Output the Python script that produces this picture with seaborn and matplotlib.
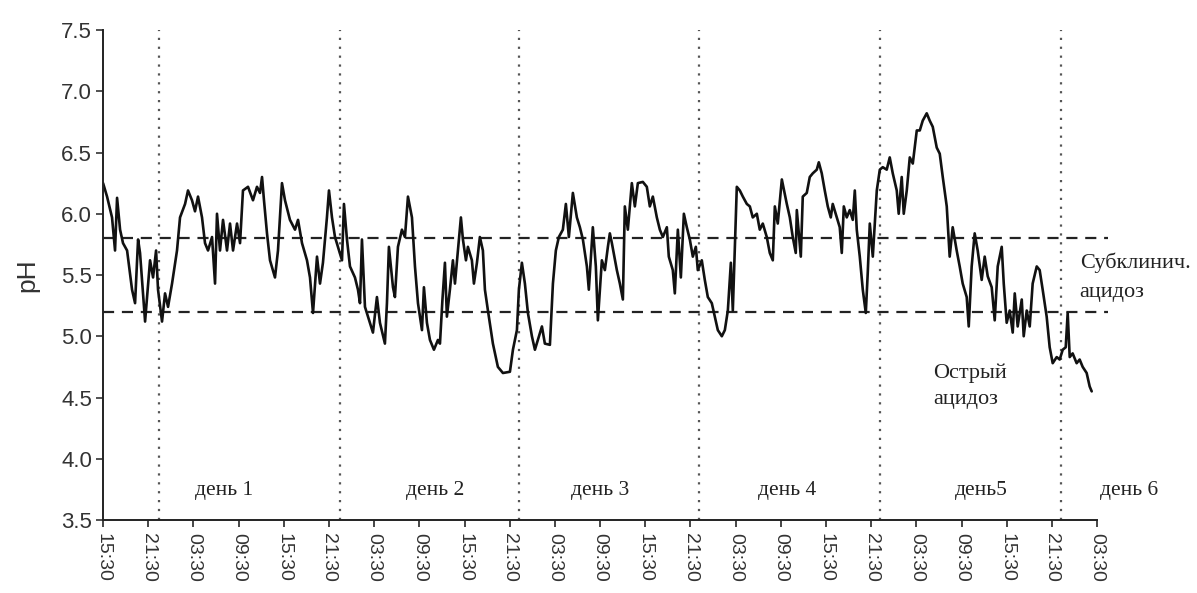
import matplotlib
matplotlib.use("Agg")
import matplotlib.pyplot as plt
import seaborn as sns
import pandas as pd

# Ruminal pH record, hours counted from 15:30 on the first day
hours = [
    0, 0.53, 1.19, 1.59, 1.86, 2.26, 2.65, 3.19, 3.85, 4.25, 4.65, 4.91, 5.58, 6.24, 6.64,
    7.04, 7.30, 7.83, 8.23, 8.63, 9.16, 9.82, 10.22, 10.89, 11.28, 11.81, 12.21, 12.61, 13.14,
    13.54, 13.94, 14.47, 14.87, 15.13, 15.53, 15.93, 16.46, 16.86, 17.26, 17.79, 18.19, 18.58,
    19.25, 19.91, 20.44, 20.84, 21.11, 21.37, 21.77, 22.17, 22.83, 23.23, 23.76, 24.16, 24.82,
    25.49, 25.89, 26.42, 27.08, 27.48, 27.88, 28.41, 28.81, 29.20, 29.73, 30.00, 30.40, 30.80,
    31.19, 31.73, 31.99, 32.39, 32.79, 33.45, 33.85, 34.12, 34.38, 34.78, 35.44, 35.84, 36.37,
    36.77, 37.43, 37.70, 37.96, 38.50, 38.76, 39.16, 39.69, 40.09, 40.49, 41.02, 41.42, 41.82,
    42.35, 42.61, 43.01, 43.41, 43.94, 44.47, 44.74, 45.07, 45.40, 45.66, 46.06, 46.46, 46.73,
    47.12, 47.52, 47.79, 48.19, 48.45, 48.98, 49.25, 49.65, 50.04, 50.44, 50.71, 51.11, 51.77,
    52.43, 53.10, 54.03, 54.43, 54.96, 55.22, 55.62, 56.02, 56.42, 56.95, 57.35, 57.74, 58.28,
    58.67, 59.34, 59.74, 60.13, 60.53, 61.06, 61.46, 61.86, 62.39, 62.92, 63.32, 63.72, 64.25,
    64.51, 65.04, 65.44, 65.71, 66.24, 66.64, 67.04, 67.30, 67.57, 68.23, 68.63, 69.03, 69.29,
    69.69, 70.22, 70.62, 71.02, 71.68, 72.21, 72.61, 73.01, 73.54, 73.94, 74.34, 74.87, 75.13,
    75.66, 75.93, 76.33, 76.73, 77.13, 77.52, 77.92, 78.32, 78.72, 78.98, 79.51, 79.91, 80.31,
    80.84, 81.24, 81.64, 82.17, 82.57, 82.97, 83.37, 83.63, 84.16, 84.56, 84.96, 85.49, 85.89,
    86.28, 86.82, 87.21, 87.61, 88.14, 88.54, 88.94, 89.21, 89.60, 90.14, 90.40, 90.80, 91.20,
    91.59, 91.99, 92.13, 92.66, 92.92, 93.45, 93.85, 94.25, 94.78, 95.05, 95.44, 95.84, 96.24,
    96.64, 96.90, 97.43, 97.83, 98.10, 98.37, 98.76, 99.16, 99.56, 99.83, 100.09, 100.49,
    100.89, 101.29, 101.55, 101.82, 102.22, 102.75, 103.15, 103.54, 104.07, 104.47, 104.87,
    105.40, 105.66, 106.06, 106.33, 106.73, 107.13, 107.53, 108.06, 108.46, 108.85, 109.38,
    109.78, 110.18, 110.71, 111.11, 111.51, 112.04, 112.43, 112.83, 113.36, 113.76, 114.16,
    114.69, 114.96, 115.35, 115.75, 116.15, 116.68, 117.08, 117.48, 118.01, 118.41, 118.81,
    119.34, 119.61, 120.00, 120.40, 120.80, 121.07, 121.46, 122.00, 122.26, 122.66, 123.06,
    123.45, 123.99, 124.38, 124.78, 125.31, 125.71, 126.11, 126.64, 127.04, 127.44, 127.84,
    128.10, 128.37, 128.76, 129.29, 129.69, 130.09, 130.62, 131.02, 131.29,
]

ph = [
    6.25, 6.14, 5.97, 5.70, 6.13, 5.87, 5.76, 5.70, 5.38, 5.27, 5.79, 5.68, 5.12, 5.62, 5.48,
    5.70, 5.38, 5.12, 5.35, 5.24, 5.43, 5.70, 5.97, 6.08, 6.19, 6.11, 6.02, 6.14, 5.97,
    5.76, 5.70, 5.81, 5.43, 6.00, 5.70, 5.95, 5.70, 5.92, 5.70, 5.92, 5.76, 6.19,
    6.22, 6.11, 6.22, 6.17, 6.30, 6.11, 5.84, 5.62, 5.48, 5.70, 6.25, 6.11, 5.95,
    5.87, 5.95, 5.76, 5.62, 5.48, 5.19, 5.65, 5.43, 5.60, 5.97, 6.19, 5.97, 5.81,
    5.73, 5.62, 6.08, 5.79, 5.57, 5.48, 5.38, 5.27, 5.79, 5.24, 5.11, 5.03, 5.32,
    5.11, 4.94, 5.27, 5.73, 5.40, 5.32, 5.73, 5.87, 5.81, 6.14, 5.97, 5.57, 5.27,
    5.05, 5.40, 5.11, 4.97, 4.89, 4.97, 4.94, 5.30, 5.60, 5.16, 5.38, 5.62, 5.43,
    5.70, 5.97, 5.79, 5.62, 5.73, 5.62, 5.43, 5.60, 5.81, 5.70, 5.38, 5.21, 4.94,
    4.75, 4.70, 4.71, 4.89, 5.05, 5.38, 5.60, 5.43, 5.19, 5.00, 4.89, 4.97, 5.08,
    4.94, 4.93, 5.43, 5.70, 5.81, 5.87, 6.08, 5.81, 6.17, 5.97, 5.89, 5.79, 5.57,
    5.38, 5.89, 5.57, 5.13, 5.62, 5.54, 5.73, 5.84, 5.76, 5.54, 5.43, 5.30, 6.06,
    5.87, 6.25, 6.06, 6.25, 6.26, 6.22, 6.06, 6.14, 5.97, 5.87, 5.81, 5.89, 5.65,
    5.54, 5.35, 5.87, 5.48, 6.00, 5.89, 5.79, 5.65, 5.73, 5.54, 5.62, 5.46, 5.32,
    5.27, 5.16, 5.05, 5.00, 5.05, 5.21, 5.60, 5.21, 6.22, 6.19, 6.14, 6.08, 6.06,
    5.97, 6.00, 5.87, 5.92, 5.81, 5.68, 5.62, 6.06, 5.92, 6.28, 6.20, 6.08, 5.97,
    5.81, 5.68, 6.03, 5.65, 6.14, 6.17, 6.30, 6.33, 6.36, 6.42, 6.33, 6.19, 6.06,
    5.97, 6.08, 5.97, 5.89, 5.68, 6.06, 5.97, 6.03, 5.95, 6.19, 5.87, 5.65,
    5.38, 5.19, 5.52, 5.92, 5.65, 6.19, 6.36, 6.38, 6.36, 6.46, 6.33,
    6.19, 6.00, 6.30, 6.00, 6.19, 6.46, 6.41, 6.68, 6.68, 6.76, 6.82,
    6.76, 6.71, 6.54, 6.49, 6.30, 6.06, 5.65, 5.89, 5.70, 5.57, 5.43,
    5.32, 5.08, 5.57, 5.84, 5.70, 5.46, 5.65, 5.49, 5.40, 5.13, 5.57,
    5.73, 5.43, 5.11, 5.21, 5.03, 5.35, 5.08, 5.30, 5.00, 5.21, 5.08,
    5.43, 5.57, 5.54, 5.38, 5.16, 4.91, 4.78, 4.83, 4.81, 4.89, 4.91,
    5.19, 4.83, 4.86, 4.78, 4.81, 4.75, 4.70, 4.59, 4.55,
]
assert len(hours) == len(ph)

# Axis ticks: clock time every 6 hours
tick_hours = list(range(0, 133, 6))
tick_labels = ["15:30", "21:30", "03:30", "09:30"] * 5 + ["15:30", "21:30", "03:30"]

# Acidosis thresholds
subclinical_ph = 5.8
acute_ph = 5.2

# Day boundaries and day captions
day_bounds = [7.4, 31.4, 55.3, 79.2, 103.2, 127.2]
day_names = ["день 1", "день 2", "день 3", "день 4", "день5", "день 6"]
day_label_x = [16.1, 44.1, 66.0, 90.9, 116.6, 136.3]

df = pd.DataFrame({"hours": hours, "pH": ph})

sns.set_theme(style="white")
plt.rcParams["font.family"] = ["Liberation Sans", "DejaVu Sans"]

fig = plt.figure(figsize=(11.97, 5.93), dpi=100)
ax = fig.add_axes([0.0861, 0.1231, 0.8304, 0.8263])

sns.lineplot(data=df, x="hours", y="pH", ax=ax, color="#111111", linewidth=1.9,
             estimator=None, sort=False)

# threshold lines (run slightly past the axis end)
for level in (subclinical_ph, acute_ph):
    ax.plot([0, 133.4], [level, level], color="#222222", linewidth=1.6,
            linestyle=(0, (5, 3.5)), clip_on=False, zorder=1)

# day boundaries
for xb in day_bounds:
    ax.axvline(xb, color="#555555", linewidth=1.6, linestyle=(0, (1, 3)), zorder=1)

serif = ["Liberation Serif", "DejaVu Serif"]
for name, xp in zip(day_names, day_label_x):
    ax.text(xp, 3.74, name, ha="center", va="center", fontsize=15.5, family=serif,
            color="#222222", clip_on=False)

ax.text(129.7, 5.60, "Субклинич.", ha="left", va="center", fontsize=16, family=serif,
        color="#222222", clip_on=False)
ax.text(129.7, 5.36, "ацидоз", ha="left", va="center", fontsize=16, family=serif,
        color="#222222", clip_on=False)
ax.text(110.2, 4.70, "Острый", ha="left", va="center", fontsize=16, family=serif,
        color="#222222")
ax.text(110.2, 4.48, "ацидоз", ha="left", va="center", fontsize=16, family=serif,
        color="#222222")

ax.set_xlim(0, 132)
ax.set_ylim(3.5, 7.5)
ax.set_yticks([3.5, 4.0, 4.5, 5.0, 5.5, 6.0, 6.5, 7.0, 7.5])
ax.set_yticklabels(["3.5", "4.0", "4.5", "5.0", "5.5", "6.0", "6.5", "7.0", "7.5"])
ax.set_xticks(tick_hours)
ax.set_xticklabels(tick_labels, rotation=270, fontsize=14, color="#333333")
ax.tick_params(axis="y", labelsize=16, colors="#333333", length=5, width=1.2, direction="out",
               left=True, pad=3)
ax.tick_params(axis="x", length=5, width=1.2, direction="out", bottom=True, pad=4)

ax.set_xlabel("")
ax.set_ylabel("pH", fontsize=19, color="#333333", labelpad=16)

for side in ("top", "right"):
    ax.spines[side].set_visible(False)
for side in ("left", "bottom"):
    ax.spines[side].set_color("#222222")
    ax.spines[side].set_linewidth(1.4)

fig.savefig("out.png", dpi=100)
